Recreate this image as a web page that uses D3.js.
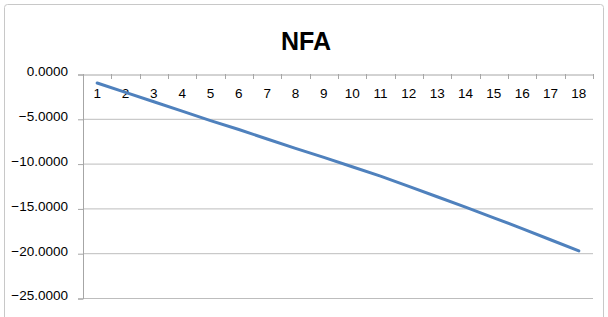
<!DOCTYPE html>
<html>
<head>
<meta charset="utf-8">
<script src="https://cdn.jsdelivr.net/npm/d3@7"></script>
<style>
  body { margin:0; background:#fff; }
  text { font-family: "Liberation Sans", "DejaVu Sans", sans-serif; fill:#000; }
</style>
</head>
<body>
<svg id="chart"></svg>
<script>
// data
var periods = [1,2,3,4,5,6,7,8,9,10,11,12,13,14,15,16,17,18];
var nfa = [-1.0,-2.05,-3.1,-4.15,-5.2,-6.2,-7.25,-8.3,-9.3,-10.35,-11.4,-12.55,-13.7,-14.85,-16.05,-17.25,-18.5,-19.75];
var yTicks = [0,-5,-10,-15,-20,-25];

var width = 608, height = 317;
var svg = d3.select("#chart").attr("width", width).attr("height", height);

// chart frame
svg.append("rect")
  .attr("x", 4.5).attr("y", 4.5)
  .attr("width", 599).attr("height", 320)
  .attr("rx", 3)
  .attr("fill", "#fff")
  .attr("stroke", "#c8c8c8");

// title
svg.append("text")
  .attr("x", 306).attr("y", 50)
  .attr("text-anchor", "middle")
  .style("font-size", "25px")
  .style("font-weight", "bold")
  .text("NFA");

// plot area (window.top is read-only, so own names)
var plotL = 83, plotR = 593, plotT = 74, plotB = 298;

var x = d3.scaleBand().domain(periods).range([plotL, plotR]);
var y = d3.scaleLinear().domain([0, -25]).range([plotT, plotB]);

// gridlines
svg.append("g").selectAll("line")
  .data(yTicks.slice(1))
  .enter().append("line")
  .attr("x1", plotL).attr("x2", plotR)
  .attr("y1", function(d){ return y(d)+0.5; })
  .attr("y2", function(d){ return y(d)+0.5; })
  .attr("stroke", "#bdbdbd")
  .attr("stroke-width", 1);

// y axis
var yAxis = svg.append("g")
  .attr("transform", "translate(" + plotL + ",0.5)")
  .call(d3.axisLeft(y).tickValues(yTicks).tickFormat(d3.format(".4f")).tickSize(5).tickPadding(10));
yAxis.select(".domain").attr("stroke", "#a6a6a6");
yAxis.selectAll(".tick line").attr("stroke", "#a6a6a6");
yAxis.selectAll("text").style("font-size", "13.5px").attr("dy", "0.1em");

// x axis at zero, labels below
var xAxis = svg.append("g")
  .attr("transform", "translate(0," + (y(0)+0.5) + ")")
  .call(d3.axisBottom(x).tickSize(0).tickPadding(14));
xAxis.select(".domain").attr("stroke", "#a6a6a6");
xAxis.selectAll("text").style("font-size", "13.5px");

// x tick marks at band edges
var edges = periods.map(function(p){ return x(p); }).concat([plotR]);
svg.append("g").selectAll("line")
  .data(edges)
  .enter().append("line")
  .attr("x1", function(d){ return Math.round(d)+0.5; })
  .attr("x2", function(d){ return Math.round(d)+0.5; })
  .attr("y1", y(0)).attr("y2", y(0)+5)
  .attr("stroke", "#a6a6a6");

// series line
var line = d3.line()
  .x(function(d,i){ return x(periods[i]) + x.bandwidth()/2; })
  .y(function(d){ return y(d); });

svg.append("path")
  .datum(nfa)
  .attr("d", line)
  .attr("fill", "none")
  .attr("stroke", "#4f81bd")
  .attr("stroke-width", 3)
  .attr("stroke-linecap", "round");
</script>
</body>
</html>
